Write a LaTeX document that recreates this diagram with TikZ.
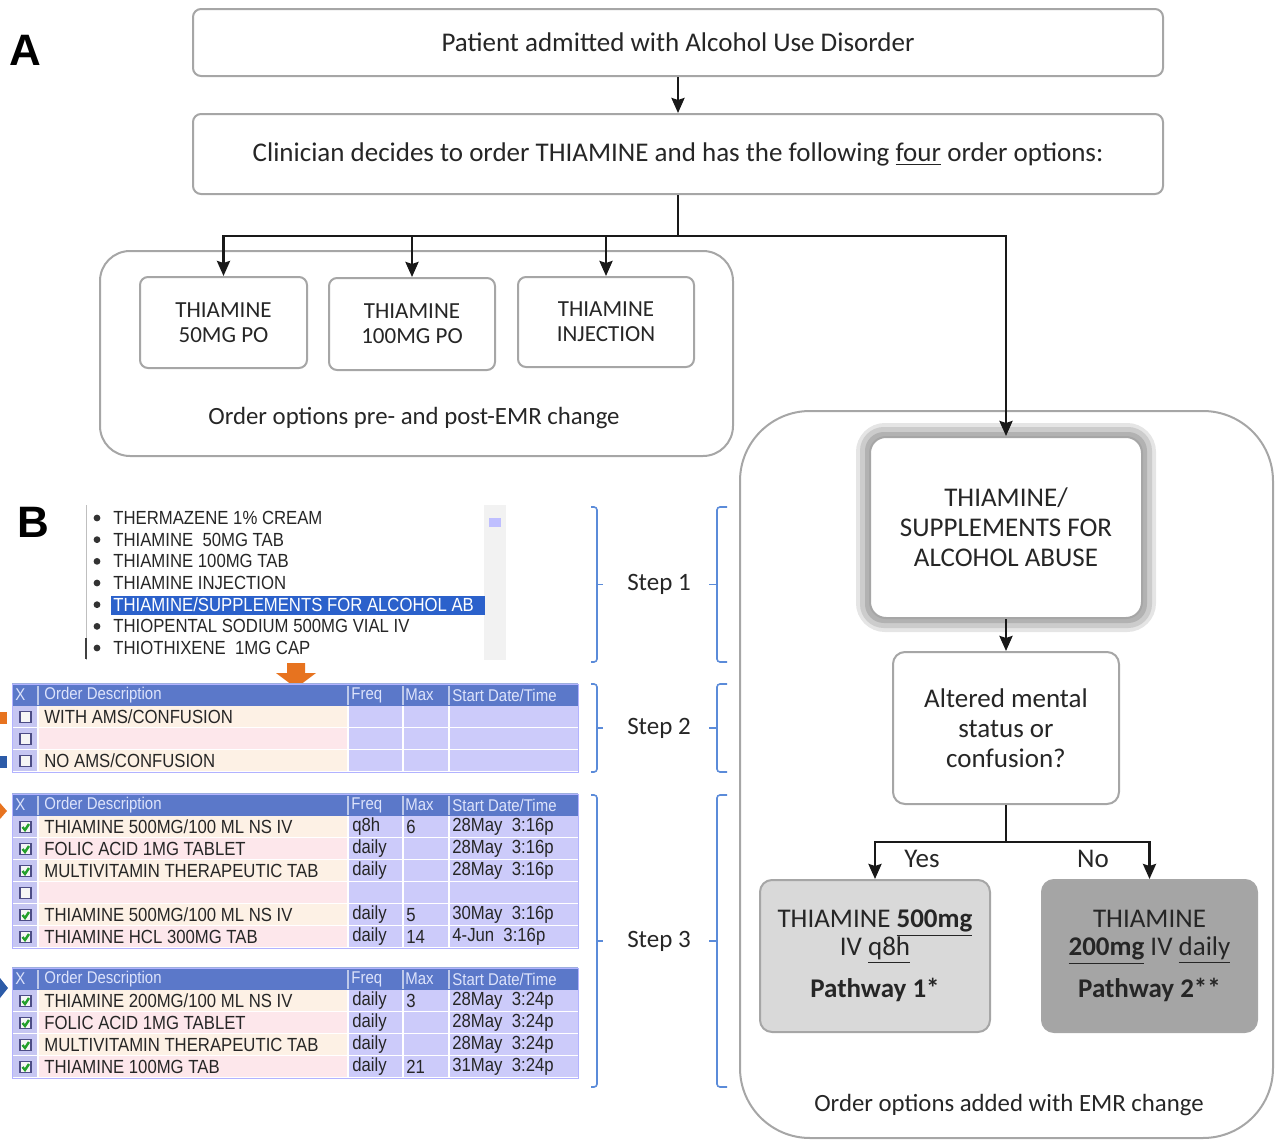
\documentclass[tikz,border=0pt]{standalone}
\usepackage{fontspec}
\usepackage{tikz}
\usetikzlibrary{arrows.meta}
\setmainfont{Carlito}
\newfontfamily\scrfont[FakeStretch=0.88]{Liberation Sans}
\newfontfamily\lblfont{Liberation Sans}

\definecolor{boxgray}{HTML}{A6A6A6}
\definecolor{txt}{HTML}{262626}
\definecolor{pwlight}{HTML}{D9D9D9}
\definecolor{pwdark}{HTML}{A5A5A5}
\definecolor{brblue}{HTML}{5B8BD9}
\definecolor{hdblue}{HTML}{5B78C9}
\definecolor{hdtxt}{HTML}{DDE3FB}
\definecolor{lavx}{HTML}{C6C6F2}
\definecolor{lavr}{HTML}{CCCBFA}
\definecolor{rowpeach}{HTML}{FDF1E5}
\definecolor{rowpink}{HTML}{FDE7EB}
\definecolor{selblue}{HTML}{2B61CB}
\definecolor{arrorange}{HTML}{E7731F}
\definecolor{mkblue}{HTML}{2C5BA8}
\definecolor{chkgreen}{HTML}{23A02A}

\newcommand{\fs}[2]{\fontsize{#1}{#2}\selectfont}

\tikzset{
  flowbox/.style={draw=boxgray, line width=1pt, rounded corners=4pt, fill=white,
    align=center, text=txt, inner sep=0pt},
  grpbox/.style={draw=boxgray, line width=1pt},
  conn/.style={line width=1.25pt, draw=black!90},
  brk/.style={draw=brblue, line width=0.8pt, rounded corners=1.5pt},
  scr/.style={font=\scrfont\fs{9.5}{10}, text=black!85, inner sep=0pt, anchor=west},
  hd/.style={font=\scrfont\fs{8.5}{9}, text=hdtxt, inner sep=0pt, anchor=west},
  boxchk/.style={draw=black!45!blue!40!gray, fill=black!4, line width=0.6pt},
  chk/.style={draw=chkgreen, line width=1.2pt},
  grid/.style={draw=white, line width=0.6pt},
}

% header of an order table, #1 = top
\newcommand{\ordhead}[1]{%
  \fill[hdblue] (12,#1) rectangle (578,#1+22);
  \draw[hdblue!60!white, line width=0.6pt] (12,#1) -- (578,#1);
  \foreach \cx in {38,348,403,449} \draw[hdblue!40!white, line width=0.6pt] (\cx,#1+2) -- (\cx,#1+21);
  \node[hd] (hx#1) at (15,#1+11) {X};
  \node[hd] (hd#1) at (44,#1+11) {Order Description};
  \node[hd] (hf#1) at (351,#1+11) {Freq};
  \node[hd] (hm#1) at (405,#1+11) {Max};
  \node[hd] (hs#1) at (452,#1+11) {Start Date/Time};
}
% one row: top, fill, checked, description, freq, max, start
\newcommand{\ordrow}[7]{%
  \fill[lavx] (12,#1) rectangle (38,#1+22);
  \fill[#2] (38,#1) rectangle (348,#1+22);
  \fill[lavr] (348,#1) rectangle (578,#1+22);
  \draw[grid] (12,#1+22) -- (578,#1+22);
  \foreach \cx in {38,348,403,449} \draw[grid] (\cx,#1) -- (\cx,#1+22);
  \draw[boxchk] (20,#1+5.5) rectangle (31,#1+16.5);
  \ifnum#3=1 \draw[chk] (22.5,#1+11) -- (25,#1+14) -- (29,#1+8); \fi
  \node[scr] (rd#1) at (44,#1+11) {#4};
  \node[scr] (rf#1) at (352,#1+11) {#5};
  \node[scr] (rm#1) at (406,#1+11) {#6};
  \node[scr] (rs#1) at (452,#1+11) {#7};
}

\begin{document}
\begin{tikzpicture}[x=0.5pt, y=-0.5pt, >={Stealth[length=7.5pt, width=6.5pt, inset=1pt]}]
    \useasboundingbox (0,0) rectangle (1282,1140);

    % panel A
    \node[font=\lblfont\bfseries\fs{22}{22}] (labA) at (25,50) {A};
    \draw[grpbox, rounded corners=15pt] (100,251) rectangle (733,456);
    \draw[grpbox, rounded corners=35pt] (740,411) rectangle (1273,1138);
    \node[text=txt, font=\fs{12.4}{14}] (pretxt) at (414,418) {Order options pre- and post-EMR change};
    \node[text=txt, font=\fs{12.4}{14}] (posttxt) at (1009,1105) {Order options added with EMR change};

    \node[flowbox, minimum width=485pt, minimum height=33.5pt, font=\fs{13.5}{15}] (admit) at (678,42.5)
        {Patient admitted with Alcohol Use Disorder};
    \node[flowbox, minimum width=485pt, minimum height=40pt, font=\fs{13.5}{15}] (clin) at (678,154)
        {Clinician decides to order THIAMINE and has the following \underline{four} order options:};

    \node[flowbox, minimum width=83.5pt, minimum height=45.5pt, font=\fs{11.5}{12.5}] (o50) at (223.5,322.5) {THIAMINE\\50MG PO};
    \node[flowbox, minimum width=83pt, minimum height=46pt, font=\fs{11.5}{12.5}] (o100) at (412,324) {THIAMINE\\100MG PO};
    \node[flowbox, minimum width=88pt, minimum height=45pt, font=\fs{11.5}{12.5}] (oinj) at (606,322) {THIAMINE\\INJECTION};

    % soft glow round the new order set
    \draw[line width=9pt, black!10, rounded corners=10pt] (865,432) rectangle (1147,623);
    \draw[line width=6pt, black!20, rounded corners=9pt] (866,433) rectangle (1146,622);
    \draw[line width=3pt, black!30, rounded corners=8pt] (868,435) rectangle (1144,620);
    \node[flowbox, rounded corners=8pt, minimum width=136pt, minimum height=90.5pt, font=\fs{13.5}{15}] (supp) at (1006,527.5)
        {THIAMINE/\\SUPPLEMENTS FOR\\ALCOHOL ABUSE};
    \node[flowbox, rounded corners=6pt, minimum width=113pt, minimum height=76pt, font=\fs{13.5}{15}] (ams) at (1006,728)
        {Altered mental\\status or\\confusion?};
    \node[flowbox, rounded corners=6pt, fill=pwlight, minimum width=115pt, minimum height=76pt, font=\fs{13.5}{14}] (pw1) at (875,956)
        {THIAMINE \underline{\textbf{500mg}}\\IV \underline{q8h}\\[7pt]\textbf{Pathway 1*}};
    \node[flowbox, rounded corners=6pt, fill=pwdark, minimum width=107.5pt, minimum height=76pt, font=\fs{13.5}{14}] (pw2) at (1149.5,956)
        {THIAMINE\\\underline{\textbf{200mg}} IV \underline{daily}\\[7pt]\textbf{Pathway 2**}};

    \coordinate (split) at (678,236);
    \coordinate (fork) at (1006,842);
    \draw[conn, ->] (admit) -- (clin);
    \draw[conn] (clin) -- (split);
    \draw[conn, ->] (split) -| (o50);
    \draw[conn, ->] (split) -| (o100);
    \draw[conn, ->] (split) -| (oinj);
    \draw[conn, ->] (split) -| (supp);
    \draw[conn, ->] (supp) -- (ams);
    \draw[conn] (ams) -- (fork);
    \draw[conn, ->] (fork) -| (pw1);
    \draw[conn, ->] (fork) -| (pw2);
    \node[text=txt, font=\fs{13.5}{14}] (yes) at (922,859) {Yes};
    \node[text=txt, font=\fs{13.5}{14}] (no) at (1093,859) {No};

    % panel B
    \node[font=\lblfont\bfseries\fs{22}{22}] (labB) at (33,522) {B};
    \draw[black!25, line width=0.5pt] (86,505) -- (86,660);
    \draw[black!75, line width=0.8pt] (86,638) -- (86,659);
    \fill[black!5] (484,505) rectangle (506,660);
    \fill[blue!25] (489,518) rectangle (501,527);
    \fill[selblue] (111,596) rectangle (485,615);
    \foreach \t [count=\i] in {{THERMAZENE 1\% CREAM}, {THIAMINE\ \ 50MG TAB}, {THIAMINE 100MG TAB},
        {THIAMINE INJECTION}, {\textcolor{white}{THIAMINE/SUPPLEMENTS FOR ALCOHOL AB}},
        {THIOPENTAL SODIUM 500MG VIAL IV}, {THIOTHIXENE\ \ 1MG CAP}} {
        \fill[black!80] (97,{518+21.67*(\i-1)}) circle (1.7pt);
        \node[scr] (item\i) at (113,{518+21.67*(\i-1)}) {\t};
    }
    \fill[arrorange] (287,663) -- (305,663) -- (305,673) -- (316,673) -- (296,688) -- (276,673) -- (287,673) -- cycle;

    % step 2 table
    \ordhead{684}
    \ordrow{706}{rowpeach}{0}{WITH AMS/CONFUSION}{}{}{}
    \ordrow{728}{rowpink}{0}{}{}{}{}
    \ordrow{750}{rowpeach}{0}{NO AMS/CONFUSION}{}{}{}
    \draw[blue!30, line width=0.5pt] (12,684) rectangle (578,772);
    \fill[arrorange] (0,712) rectangle (7,724);
    \fill[mkblue] (0,756) rectangle (7,768);

    % step 3, pathway 1
    \ordhead{794}
    \ordrow{816}{rowpeach}{1}{THIAMINE 500MG/100 ML NS IV}{q8h}{6}{28May\ \ 3:16p}
    \ordrow{838}{rowpink}{1}{FOLIC ACID 1MG TABLET}{daily}{}{28May\ \ 3:16p}
    \ordrow{860}{rowpeach}{1}{MULTIVITAMIN THERAPEUTIC TAB}{daily}{}{28May\ \ 3:16p}
    \ordrow{882}{rowpink}{0}{}{}{}{}
    \ordrow{904}{rowpeach}{1}{THIAMINE 500MG/100 ML NS IV}{daily}{5}{30May\ \ 3:16p}
    \ordrow{926}{rowpink}{1}{THIAMINE HCL 300MG TAB}{daily}{14}{4-Jun\ \ 3:16p}
    \draw[blue!30, line width=0.5pt] (12,794) rectangle (578,948);
    \fill[arrorange] (0,803) -- (7,811) -- (0,819) -- cycle;

    % step 3, pathway 2
    \ordhead{968}
    \ordrow{990}{rowpeach}{1}{THIAMINE 200MG/100 ML NS IV}{daily}{3}{28May\ \ 3:24p}
    \ordrow{1012}{rowpink}{1}{FOLIC ACID 1MG TABLET}{daily}{}{28May\ \ 3:24p}
    \ordrow{1034}{rowpeach}{1}{MULTIVITAMIN THERAPEUTIC TAB}{daily}{}{28May\ \ 3:24p}
    \ordrow{1056}{rowpink}{1}{THIAMINE 100MG TAB}{daily}{21}{31May\ \ 3:24p}
    \draw[blue!30, line width=0.5pt] (12,968) rectangle (578,1078);
    \fill[mkblue] (0,978) -- (8,988) -- (0,998) -- cycle;

    % brackets and steps
    \foreach \yt/\yb/\k in {507/662/1, 684/772/2, 795/1087/3} {
        \draw[brk] (591,\yt) -- (597,\yt) -- (597,\yb) -- (591,\yb);
        \draw[brk] (597,{(\yt+\yb)/2}) -- (603,{(\yt+\yb)/2});
        \draw[brk] (727,\yt) -- (717,\yt) -- (717,\yb) -- (727,\yb);
        \draw[brk] (717,{(\yt+\yb)/2}) -- (709,{(\yt+\yb)/2});
        \node[text=txt, font=\fs{12.5}{14}] (step\k) at (659,{(\yt+\yb)/2}) {Step \k};
    }
\end{tikzpicture}
\end{document}
